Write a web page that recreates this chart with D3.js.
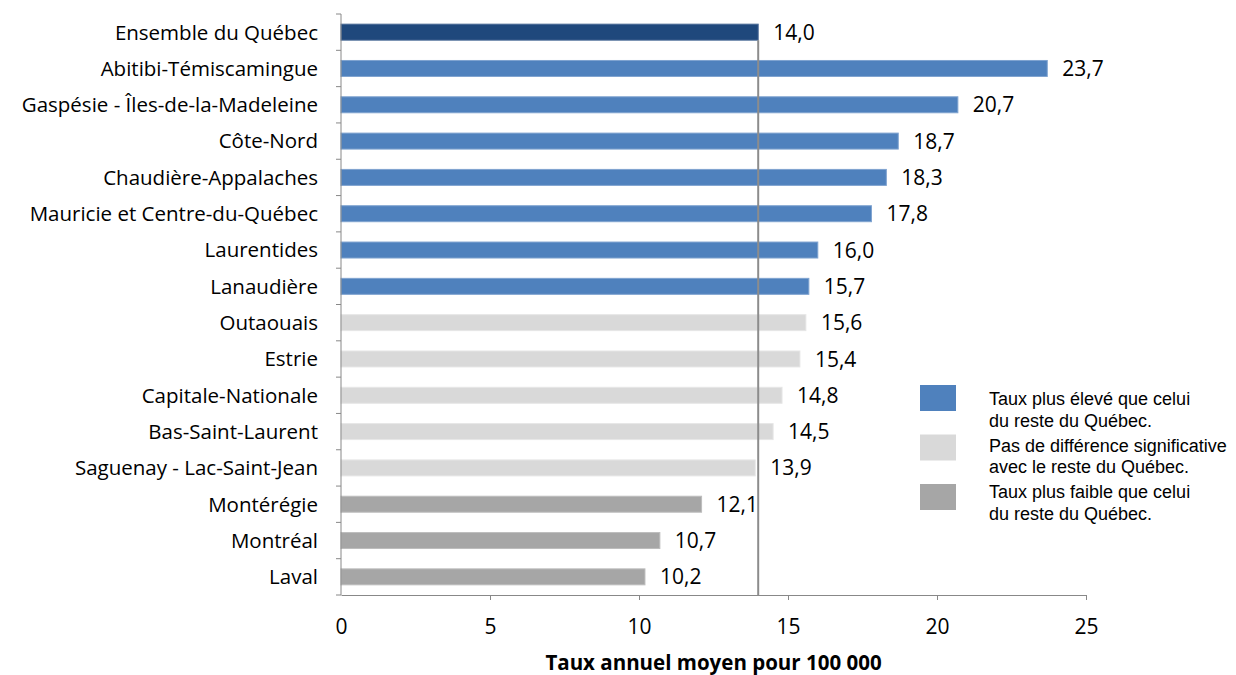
<!DOCTYPE html>
<html><head><meta charset="utf-8">
<script src="https://cdn.jsdelivr.net/npm/d3@7"></script>
<style>body{margin:0;background:#fff}svg{display:block}text{font-family:"Open Sans",sans-serif;fill:#000}</style>
</head><body><svg id="c" width="1236" height="675"></svg>
<script>
const categories = ["Ensemble du Québec","Abitibi-Témiscamingue","Gaspésie - Îles-de-la-Madeleine","Côte-Nord","Chaudière-Appalaches","Mauricie et Centre-du-Québec","Laurentides","Lanaudière","Outaouais","Estrie","Capitale-Nationale","Bas-Saint-Laurent","Saguenay - Lac-Saint-Jean","Montérégie","Montréal","Laval"];
const values = [14.0,23.7,20.7,18.7,18.3,17.8,16.0,15.7,15.6,15.4,14.8,14.5,13.9,12.1,10.7,10.2];
const groups = ["total","high","high","high","high","high","high","high","ns","ns","ns","ns","ns","low","low","low"];
const referenceValue = 14.0;
const xTicks = [0,5,10,15,20,25];
const legendKeys = ["high","ns","low"];
const legendLabels = [["Taux plus élevé que celui","du reste du Québec."],["Pas de différence significative","avec le reste du Québec."],["Taux plus faible que celui","du reste du Québec."]];
const axisTitle = "Taux annuel moyen pour 100 000";

const fill = {total:"#1F487C", high:"#4F81BD", ns:"#D9D9D9", low:"#A6A6A6"};
const edge = {total:"#4A6A96", high:"#7FA3D0", ns:"#E6E6E6", low:"#BDBDBD"};

const svg = d3.select("#c");
const x = d3.scaleLinear().domain([0,25]).range([341,1086]);
const y = d3.scaleBand().domain(categories).range([14,595]).paddingInner(0.56).paddingOuter(0.28);
const yb = d3.scaleBand().domain(categories).range([14,595]);

// bars
svg.append("g").selectAll("rect").data(categories).join("rect")
  .attr("x", x(0)).attr("y", d=>y(d))
  .attr("width", (d,i)=>x(values[i])-x(0)).attr("height", y.bandwidth())
  .attr("fill",(d,i)=>fill[groups[i]]).attr("stroke",(d,i)=>edge[groups[i]]).attr("stroke-width",1);

// value labels
svg.append("g").selectAll("text").data(categories).join("text")
  .attr("x",(d,i)=>x(values[i])+15).attr("y",d=>y(d)+y.bandwidth()/2)
  .attr("dy","0.36em").style("font-size","21px")
  .text((d,i)=>d3.format(".1f")(values[i]).replace(".",","));

// reference line
svg.append("line").attr("x1",x(referenceValue)).attr("x2",x(referenceValue))
  .attr("y1",y(categories[0])+y.bandwidth()).attr("y2",595)
  .attr("stroke","#8C8C8C").attr("stroke-width",2);

// y axis
const ya = svg.append("g").attr("transform","translate(341,0)");
ya.append("line").attr("x1",0).attr("x2",0).attr("y1",14).attr("y2",595).attr("stroke","#888").attr("stroke-width",1);
ya.selectAll("line.t").data(d3.range(categories.length+1)).join("line").attr("class","t")
  .attr("x1",-5).attr("x2",0).attr("y1",i=>14+i*yb.step()).attr("y2",i=>14+i*yb.step()).attr("stroke","#888");
ya.selectAll("text").data(categories).join("text")
  .attr("x",-23).attr("y",d=>y(d)+y.bandwidth()/2).attr("dy","0.36em")
  .attr("text-anchor","end").style("font-size","20.5px").text(d=>d);

// x axis
const xa = svg.append("g").attr("transform","translate(0,595)")
  .call(d3.axisBottom(x).tickValues(xTicks).tickSize(5).tickSizeOuter(0).tickFormat(d=>d));
xa.select(".domain").attr("stroke","#888");
xa.selectAll(".tick line").attr("stroke","#888");
xa.selectAll(".tick text").attr("y",39).attr("dy","0").style("font-size","21px").style("font-family","'Open Sans',sans-serif").attr("fill","#000");
xa.selectAll(".tick").filter(d=>d===0).select("line").remove();

svg.append("text").attr("x",(x(0)+x(25))/2).attr("y",670).attr("text-anchor","middle")
  .style("font-size","20.5px").style("font-weight","bold").text(axisTitle);

// legend
const lg = svg.append("g");
legendKeys.forEach((k,i)=>{
  lg.append("rect").attr("x",920).attr("y",385+i*49.5).attr("width",36).attr("height",26).attr("fill",fill[k]);
  legendLabels[i].forEach((t,j)=>{
    lg.append("text").attr("x",989).attr("y",405+i*46.5+j*21.5)
      .style("font-family","'Liberation Sans',Arial,sans-serif").style("font-size","18px").text(t);
  });
});
</script></body></html>
